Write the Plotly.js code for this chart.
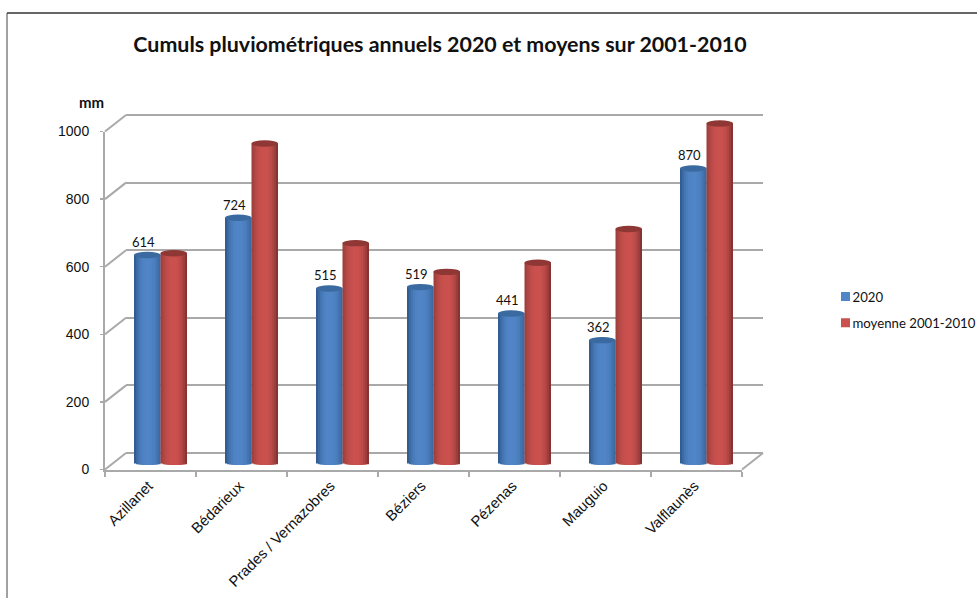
<!DOCTYPE html>
<html><head><meta charset="utf-8">
<script src="https://cdn.plot.ly/plotly-3.0.1.min.js"></script>
<style>html,body{margin:0;padding:0;background:#fff;overflow:hidden}</style>
</head><body><div id="chart" style="width:977px;height:598px"></div>
<script>
var categories = ["Azillanet","Bédarieux","Prades / Vernazobres","Béziers","Pézenas","Mauguio","Valflaunès"];
var values2020 = [614,724,515,519,441,362,870];
var valuesMoyenne = [619,944,649,564,591,691,1003];
var yTicks = [0,200,400,600,800,1000];
var seriesNames = ["2020","moyenne 2001-2010"];

var W=977,H=598;
var fx0=105,fx1=742,fy0=469.5,fy1=131.5;   // front plane px
var bdx=21,bdy=-16.5;                      // back wall offset
var mdx=10,mdy=-7;                         // plane holding the cylinders
var pxPerUnit=(fy0-fy1)/1000;
var catPx=(fx1-fx0)/categories.length;
var barFrac=26.5/catPx, N=13;
var capHalf=3.2/pxPerUnit, footHalf=2.6/pxPerUnit;
var padLo=30,padHi=40;                     // room around 0..1000 on the two inner planes
var innerRange=[-padLo,1000+padHi];

function dx(a,b,o){return [(a+o)/W,(b+o)/W];}
function dy(a,b,o){return [1-(a+o)/H,1-(b+o)/H];}
function innerDomain(o){return dy(fy0+padLo*pxPerUnit,fy1-padHi*pxPerUnit,o);}
function hex(c){return '#'+c.map(function(v){var s=Math.round(v).toString(16);return s.length<2?'0'+s:s;}).join('');}
function mix(a,b,f){return a.map(function(v,i){return v+(b[i]-v)*f;});}

var palettes=[
 {dark:[44,84,134],light:[80,133,199],cap:'#3a6a9f',right:[56,100,152]},
 {dark:[150,60,58],light:[202,81,78],cap:'#8f3734',right:[120,46,44]}
];
var traces=[];
[values2020,valuesMoyenne].forEach(function(vals,s){
  var p=palettes[s];
  for(var k=0;k<N;k++){
    var t=(k+0.5)/N*2-1, off=(s-1)*barFrac+(k/N)*barFrac;
    var f=1-Math.pow(Math.abs(t),2.4);
    var col=hex(mix(t<0?p.dark:p.right,p.light,f));
    var foot=-footHalf*Math.sqrt(1-t*t);
    var isMid=k===Math.floor(N/2);
    traces.push({type:'bar',x:categories,
      y:vals.map(function(v){return v-foot;}),base:vals.map(function(){return foot;}),
      width:Math.min(2,N-k)/N*barFrac,offset:off,xaxis:'x3',yaxis:'y3',cliponaxis:false,
      marker:{color:col,line:{width:0}},name:seriesNames[s],hoverinfo:'skip',
      legendgroup:seriesNames[s],showlegend:isMid});
  }
});
// back wall and front axis carriers
traces.unshift({type:'scatter',mode:'none',x:[0,1],y:[0,1000],xaxis:'x2',yaxis:'y2',showlegend:false,hoverinfo:'skip'});
traces.unshift({type:'bar',x:categories,y:categories.map(function(){return 0;}),xaxis:'x',yaxis:'y',showlegend:false,hoverinfo:'skip',marker:{color:'rgba(0,0,0,0)'}});

var gray='#a9a9a9';
var shapes=[
 {type:'line',xref:'paper',yref:'paper',x0:7/W,x1:1,y0:1-13/H,y1:1-13/H,line:{color:'#666',width:2},layer:'below'},
 {type:'line',xref:'paper',yref:'paper',x0:7/W,x1:7/W,y0:1-13/H,y1:0,line:{color:'#444',width:1},layer:'below'}
];
yTicks.forEach(function(v){
  var y=fy0-v*pxPerUnit;
  shapes.push({type:'line',xref:'paper',yref:'paper',x0:fx0/W,x1:(fx0+bdx)/W,y0:1-y/H,y1:1-(y+bdy)/H,line:{color:gray,width:2},layer:'below'});
});
shapes.push({type:'line',xref:'paper',yref:'paper',x0:fx1/W,x1:(fx1+bdx)/W,y0:1-fy0/H,y1:1-(fy0+bdy)/H,line:{color:gray,width:2},layer:'below'});

[values2020,valuesMoyenne].forEach(function(vals,s){
  vals.forEach(function(v,i){
    shapes.push({type:'circle',xref:'x3',yref:'y3',x0:i+(s-1)*barFrac,x1:i+s*barFrac,
      y0:v-capHalf,y1:v+capHalf,fillcolor:palettes[s].cap,line:{width:0},layer:'above'});
  });
});

var annotations=values2020.map(function(v,i){
  return {xref:'x3',yref:'y3',x:i,y:v,text:String(v),showarrow:false,xshift:-17,yshift:3,yanchor:'bottom',
    font:{family:'Lato, sans-serif',size:13,color:'#111'}};
});
annotations.push({xref:'paper',yref:'paper',x:91/W,y:1-102.5/H,text:'<b>mm</b>',showarrow:false,xanchor:'center',yanchor:'middle',
  font:{family:'Lato, sans-serif',size:15,color:'#111'}});

var tickFont={family:'"Liberation Sans", Arial, sans-serif',size:14,color:'#111'};
var layout={width:W,height:H,autosize:false,paper_bgcolor:'#fff',plot_bgcolor:'rgba(0,0,0,0)',
  margin:{l:0,r:0,t:0,b:0,pad:0,autoexpand:false},
  barmode:'overlay',
  title:{text:'<b>Cumuls pluviométriques annuels 2020 et moyens sur 2001-2010</b>',x:440/W,y:1-44.5/H,xanchor:'center',yanchor:'middle',
    font:{family:'Lato, sans-serif',size:21.4,color:'#111'}},
  xaxis:{domain:dx(fx0,fx1,0),type:'category',categoryorder:'array',categoryarray:categories,range:[-0.5,6.5],
    tickson:'boundaries',ticks:'outside',ticklen:5,tickwidth:1.5,tickcolor:gray,showline:true,linecolor:gray,linewidth:2,
    showgrid:false,zeroline:false,tickangle:-45,ticklabelshift:-2,tickfont:{family:tickFont.family,size:14.8,color:'#111'},anchor:'y',automargin:false,fixedrange:true},
  yaxis:{domain:dy(fy0,fy1,0),range:[0,1000],tickvals:yTicks,ticks:'outside',ticklen:3,tickwidth:1.5,tickcolor:gray,
    showline:true,linecolor:gray,linewidth:2,showgrid:false,zeroline:false,tickfont:tickFont,ticklabelstandoff:8,anchor:'x',automargin:false,fixedrange:true},
  xaxis2:{domain:dx(fx0,fx1,bdx),range:[0,1],showticklabels:false,ticks:'',showline:false,showgrid:false,zeroline:false,anchor:'y2',fixedrange:true},
  yaxis2:{domain:innerDomain(bdy),range:innerRange,tickvals:yTicks,showticklabels:false,ticks:'',showline:false,showgrid:true,gridcolor:gray,gridwidth:2,zeroline:true,zerolinecolor:gray,zerolinewidth:2,anchor:'x2',fixedrange:true},
  xaxis3:{domain:dx(fx0,fx1,mdx),type:'category',categoryorder:'array',categoryarray:categories,range:[-0.5,6.5],showticklabels:false,ticks:'',showline:false,showgrid:false,zeroline:false,anchor:'y3',fixedrange:true},
  yaxis3:{domain:innerDomain(mdy),range:innerRange,showticklabels:false,ticks:'',showline:false,showgrid:false,zeroline:false,anchor:'x3',fixedrange:true},
  showlegend:true,
  legend:{x:812.5/W,y:1-281.5/H,xanchor:'left',yanchor:'top',bgcolor:'rgba(0,0,0,0)',tracegroupgap:6,itemclick:false,itemdoubleclick:false,
    font:{family:'Lato, sans-serif',size:13.2,color:'#111'}},
  shapes:shapes,annotations:annotations
};
Plotly.newPlot('chart',traces,layout,{displayModeBar:false,staticPlot:true}).then(function(){
  document.querySelectorAll('.legend .legendsymbols').forEach(function(g){
    g.setAttribute('transform','translate(13,0)');
    g.querySelectorAll('path').forEach(function(p){p.setAttribute('d','M4.5,4.5H-4.5V-4.5H4.5Z');});
  });
});
</script></body></html>
